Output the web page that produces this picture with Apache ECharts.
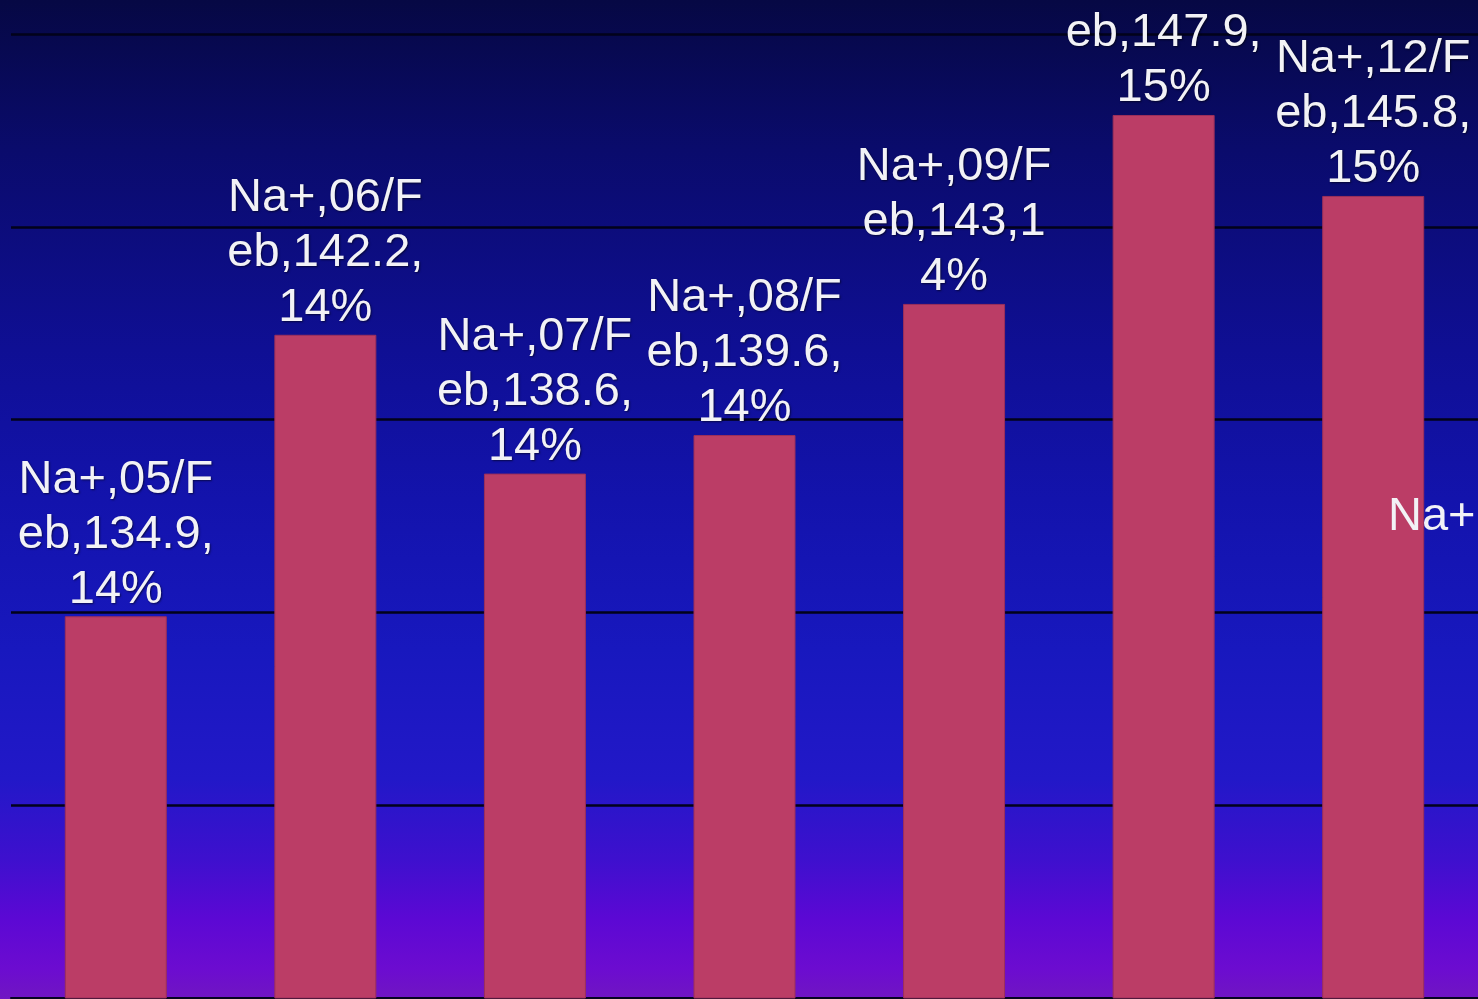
<!DOCTYPE html>
<html>
<head>
<meta charset="utf-8">
<script src="https://cdn.jsdelivr.net/npm/echarts@6/dist/echarts.min.js"></script>
<style>
html,body{margin:0;padding:0;background:#0a0a50;}
#chart{width:1478px;height:999px;}
</style>
</head>
<body>
<div id="chart"></div>
<script>
const categories = ["Na+,05/Feb", "Na+,06/Feb", "Na+,07/Feb", "Na+,08/Feb", "Na+,09/Feb", "Na+,10/Feb", "Na+,12/Feb"];
const values = [134.9, 142.2, 138.6, 139.6, 143, 147.9, 145.8];
const labels = [
  "Na+,05/F\neb,134.9,\n14%",
  "Na+,06/F\neb,142.2,\n14%",
  "Na+,07/F\neb,138.6,\n14%",
  "Na+,08/F\neb,139.6,\n14%",
  "Na+,09/F\neb,143,1\n4%",
  "Na+,10/F\neb,147.9,\n15%",
  "Na+,12/F\neb,145.8,\n15%"
];
const yMin = 125, yMax = 150, yStep = 5;
const extraText = "Na+";

const chart = echarts.init(document.getElementById('chart'), null, {renderer: 'canvas'});
const labelStyle = {
  color: '#f2f2f6',
  fontFamily: 'Liberation Sans, Arial, sans-serif',
  fontSize: 47,
  lineHeight: 55,
  textShadowColor: 'rgba(0,0,0,0.55)',
  textShadowBlur: 2,
  textShadowOffsetX: 1,
  textShadowOffsetY: 1
};
chart.setOption({
  animation: false,
  backgroundColor: new echarts.graphic.LinearGradient(0, 0, 0, 1, [
    {offset: 0, color: '#060844'},
    {offset: 0.15, color: '#0a0b6c'},
    {offset: 0.35, color: '#0f0f94'},
    {offset: 0.5, color: '#1313ac'},
    {offset: 0.65, color: '#1818be'},
    {offset: 0.78, color: '#2218c8'},
    {offset: 0.86, color: '#3e10ce'},
    {offset: 0.92, color: '#5c08d4'},
    {offset: 0.97, color: '#6c0cd0'},
    {offset: 1, color: '#7016c2'}
  ]),
  grid: {left: 11, right: 0, top: 34, bottom: 1, containLabel: false},
  xAxis: {
    type: 'category',
    data: categories,
    axisLine: {show: true, lineStyle: {color: '#050520', width: 2}},
    axisTick: {show: false},
    axisLabel: {show: false}
  },
  yAxis: {
    type: 'value',
    min: yMin, max: yMax, interval: yStep,
    axisLine: {show: false},
    axisTick: {show: false},
    axisLabel: {show: false},
    splitLine: {show: true, lineStyle: {color: '#02021a', width: 2.5}}
  },
  series: [{
    type: 'bar',
    data: values,
    barWidth: 102,
    itemStyle: {color: '#bb3d66', borderColor: '#9c2f5a', borderWidth: 1},
    label: Object.assign({
      show: true,
      position: 'top',
      distance: -1,
      align: 'center',
      formatter: p => labels[p.dataIndex]
    }, labelStyle)
  }],
  graphic: [{
    type: 'text',
    left: 1388,
    top: 494,
    z: 100,
    style: Object.assign({text: extraText, fill: '#f2f2f6', font: '47px "Liberation Sans", Arial, sans-serif'}, {
      shadowColor: 'rgba(0,0,0,0.5)', shadowBlur: 2, shadowOffsetX: 1, shadowOffsetY: 1
    })
  }]
});
</script>
</body>
</html>
